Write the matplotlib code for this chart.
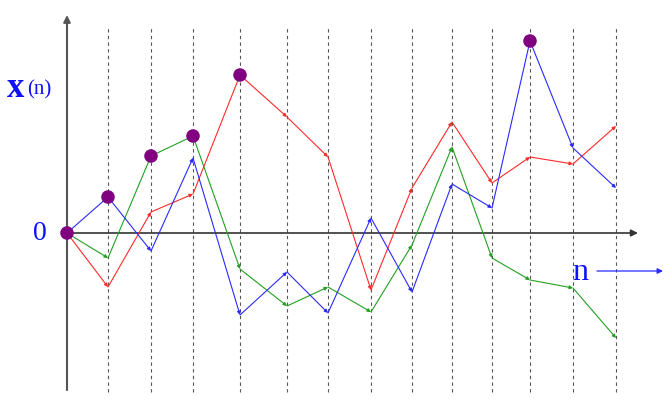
import matplotlib
matplotlib.use("Agg")
import matplotlib.pyplot as plt

# time positions of samples (irregular spacing) and values
t = [0, 41, 84, 126, 173, 220, 261, 304, 345, 385, 425, 463, 506, 549]
blue = [0, 36, -18, 75, -82, -39, -80, 15, -59, 49, 25, 192, 85, 45]
red = [0, -54, 21, 39, 158, 116, 76, -57, 45, 111, 50, 76, 69, 107]
green = [0, -25, 77, 97, -36, -73, -54, -79, -12, 86, -25, -47, -55, -105]
# record points (running maximum)
rec_t = [0, 41, 84, 126, 173, 463]
rec_v = [0, 36, 77, 97, 158, 192]

fig = plt.figure(figsize=(6.64, 4.11), dpi=100)
ax = fig.add_axes([0, 0, 1, 1])
ax.set_xlim(-67, 597)
ax.set_ylim(-178, 233)
ax.axis('off')

# dashed verticals
for x in t[1:]:
    ax.plot([x, x], [-159, 206], color='#555555', lw=0.8, ls=(0, (3, 3)), zorder=1)

# axes with arrows
ax.annotate('', xy=(571, 0), xytext=(0, 0),
            arrowprops=dict(arrowstyle='-|>', color='#333333', lw=1.2,
                            mutation_scale=10, shrinkA=0, shrinkB=0), zorder=2)
ax.annotate('', xy=(0, 218), xytext=(0, -157),
            arrowprops=dict(arrowstyle='-|>', color='#555555', lw=1.5,
                            mutation_scale=10, shrinkA=0, shrinkB=0), zorder=2)

def series(vals, col):
    for i in range(len(t) - 1):
        ax.annotate('', xy=(t[i + 1], vals[i + 1]), xytext=(t[i], vals[i]),
                    arrowprops=dict(arrowstyle='-|>', color=col, lw=0.8,
                                    mutation_scale=5, shrinkA=0, shrinkB=0),
                    zorder=3)

series(red, '#ff2a2a')
series(green, '#22a022')
series(blue, '#2a2aff')

ax.scatter(rec_t, rec_v, s=95, color='#800080', zorder=5, edgecolors='none')

serif = 'Liberation Serif'
ax.text(-60, 136, 'x', color='#1010ff', fontsize=25, family=serif,
        weight='bold', va='baseline', ha='left')
ax.text(-40, 139, '(n)', color='#1010ff', fontsize=15, family=serif,
        va='baseline', ha='left')
ax.text(-27, 0, '0', color='#1010ff', fontsize=20, family=serif, va='center', ha='center')
ax.text(513, -39, 'n', color='#1010ff', fontsize=23, family=serif, va='center', ha='center')
ax.annotate('', xy=(596, -38), xytext=(530, -38),
            arrowprops=dict(arrowstyle='-|>', color='#2a2aff', lw=0.9,
                            mutation_scale=8, shrinkA=0, shrinkB=0))

fig.savefig('out.png', dpi=100)
